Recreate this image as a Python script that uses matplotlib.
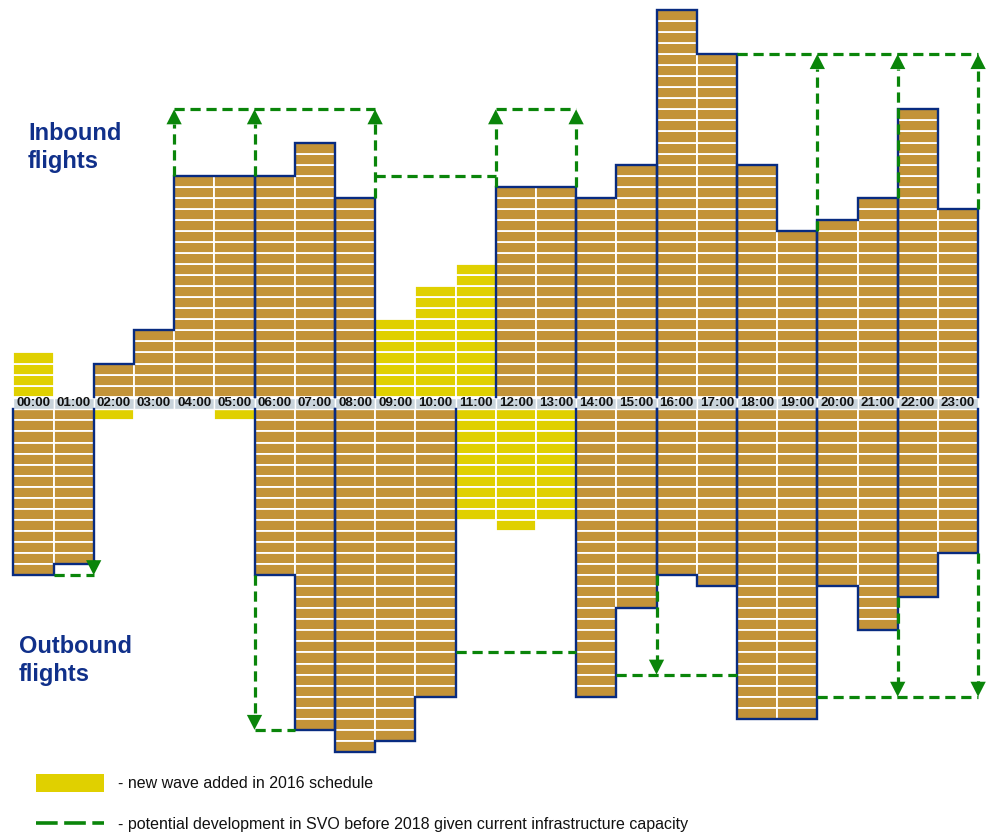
import numpy as np
import matplotlib
matplotlib.use("Agg")
import matplotlib.pyplot as plt
from matplotlib.patches import Rectangle, Polygon
from matplotlib.lines import Line2D

hours = [f"{h:02d}:00" for h in range(24)]

# one block = one flight in that hour
inbound_flights = [0, 0, 3, 6, 20, 20, 20, 23, 18, 0, 0, 0,
                   19, 19, 18, 21, 35, 31, 21, 15, 16, 18, 26, 17]
inbound_new_wave = [4, 0, 0, 0, 0, 0, 0, 0, 0, 7, 10, 12,
                    0, 0, 0, 0, 0, 0, 0, 0, 0, 0, 0, 0]
outbound_flights = [15, 14, 0, 0, 0, 0, 15, 29, 31, 30, 26, 0,
                    0, 0, 26, 18, 15, 16, 28, 28, 16, 20, 17, 13]
outbound_new_wave = [0, 0, 1, 0, 0, 1, 0, 0, 0, 0, 0, 10,
                     11, 10, 0, 0, 0, 0, 0, 0, 0, 0, 0, 0]

nan = np.nan
inbound_potential = [nan, nan, nan, nan, 26, 26, 26, 26, 26, 20, 20, 20,
                     26, 26, nan, nan, nan, nan, 31, 31, 31, 31, 31, 31]
outbound_potential = [nan, 15, nan, nan, nan, nan, 29, nan, nan, nan, nan, 22,
                      22, 22, nan, 24, 24, 24, nan, nan, 26, 26, 26, 26]
inbound_arrows = [4, 6, 9, 12, 14, 20, 22, 24]
outbound_arrows = [2, 6, 16, 22, 24]

# hour ranges outlined together
inbound_groups = [(2, 6), (6, 8), (8, 9), (12, 14), (14, 16), (16, 18), (18, 20), (20, 22), (22, 24)]
outbound_groups = [(0, 2), (6, 8), (8, 11), (14, 16), (16, 18), (18, 20), (20, 22), (22, 24)]

BROWN = "#C39338"
YELLOW = "#E0D000"
NAVY = "#082B80"
GREEN = "#0A850A"
TITLE = "#10308A"
GAP = 1.15  # space taken by the hour labels, in blocks

fig = plt.figure(figsize=(9.88, 8.35), dpi=100)
ax = fig.add_axes([0, 0, 1, 1])
ax.set_xlim(-0.331, 24.246)
ax.set_ylim(-39.67, 35.9)
ax.axis("off")

x = np.arange(24)
inb = np.array(inbound_flights)
inb_new = np.array(inbound_new_wave)
outb = np.array(outbound_flights)
outb_new = np.array(outbound_new_wave)
inb_pot = np.array(inbound_potential)
outb_pot = np.array(outbound_potential)


def side_y(v, up):
    return np.asarray(v) if up else -GAP - np.asarray(v)


def draw_blocks(base, counts, color, up):
    for k in range(int(counts.max())):
        m = counts > k
        if up:
            bottoms = base[m] + k
        else:
            bottoms = -GAP - base[m] - k - 1
        ax.bar(x[m], 1, bottom=bottoms, width=1, align="edge",
               color=color, edgecolor="white", linewidth=1.3, zorder=2)


draw_blocks(np.zeros(24), inb, BROWN, True)
draw_blocks(inb, inb_new, YELLOW, True)
draw_blocks(np.zeros(24), outb, BROWN, False)
draw_blocks(outb, outb_new, YELLOW, False)


def draw_outline(counts, groups, up):
    for a, b in groups:
        xs, ys = [a], [0]
        for h in range(a, b):
            xs += [h, h + 1]
            ys += [counts[h], counts[h]]
        xs.append(b)
        ys.append(0)
        yy = side_y(ys, up)
        if up:
            yy[0] = yy[-1] = 0.3
        ax.plot(xs, yy, color=NAVY, lw=1.7, zorder=4, solid_joinstyle="miter")


draw_outline(inb, inbound_groups, True)
draw_outline(outb, outbound_groups, False)

dash = (0, (3.2, 1.8))


def draw_potential(counts, pot, arrows, up):
    # horizontal runs at the same potential level
    h = 0
    while h < 24:
        if np.isnan(pot[h]):
            h += 1
            continue
        s = h
        while h < 24 and pot[h] == pot[s]:
            h += 1
        ax.plot([s, h], side_y([pot[s], pot[s]], up), color=GREEN, lw=2.3,
                linestyle=dash, zorder=5, dash_capstyle="butt")
    # vertical arrows at hour boundaries
    for b in arrows:
        cols = [c for c in (b - 1, b) if 0 <= c < 24 and not np.isnan(pot[c])]
        start = min(counts[c] for c in cols if counts[c] > 0)
        level = max(pot[c] for c in cols)
        head = 1.35
        ax.plot([b, b], side_y([start, level - head], up), color=GREEN, lw=2.3,
                linestyle=dash, zorder=5, dash_capstyle="butt")
        tip = side_y(level, up)
        base = side_y(level - head, up)
        ax.add_patch(Polygon([[b - 0.19, base], [b + 0.19, base], [b, tip]],
                             closed=True, color=GREEN, zorder=6, lw=0))


draw_potential(inb, inb_pot, inbound_arrows, True)
draw_potential(outb, outb_pot, outbound_arrows, False)

# hour labels between the two halves
for h, lab in zip(x, hours):
    ax.add_patch(Rectangle((h, -GAP + 0.05), 1, GAP - 0.13, facecolor="#C8D3DB",
                           edgecolor="white", lw=1.0, zorder=3))
    ax.text(h + 0.5, -GAP / 2 - 0.02, lab, ha="center", va="center",
            fontsize=9.6, fontweight="bold", family="Liberation Sans",
            color="#111111", zorder=7)

title_kw = dict(fontsize=17, fontweight="bold", family="Liberation Sans", color=TITLE)
fig.text(28 / 988, 1 - 140 / 835, "Inbound", va="baseline", **title_kw)
fig.text(28 / 988, 1 - 168 / 835, "flights", va="baseline", **title_kw)
fig.text(19 / 988, 1 - 653 / 835, "Outbound", va="baseline", **title_kw)
fig.text(19 / 988, 1 - 681 / 835, "flights", va="baseline", **title_kw)

# legend
fig.add_artist(Rectangle((36 / 988, 1 - 792 / 835), 68 / 988, 18 / 835,
                         transform=fig.transFigure, facecolor=YELLOW, lw=0))
fig.add_artist(Line2D([36 / 988, 104 / 988], [1 - 823 / 835, 1 - 823 / 835],
                      transform=fig.transFigure, color=GREEN, lw=2.6,
                      linestyle=(0, (6, 1.8))))
leg_kw = dict(fontsize=11.5, family="Liberation Sans", color="#111111", va="center")
fig.text(118 / 988, 1 - 783 / 835, "- new wave added in 2016 schedule", **leg_kw)
fig.text(118 / 988, 1 - 824 / 835,
         "- potential development in SVO before 2018 given current infrastructure capacity",
         **leg_kw)

fig.savefig("out.png", dpi=100)
